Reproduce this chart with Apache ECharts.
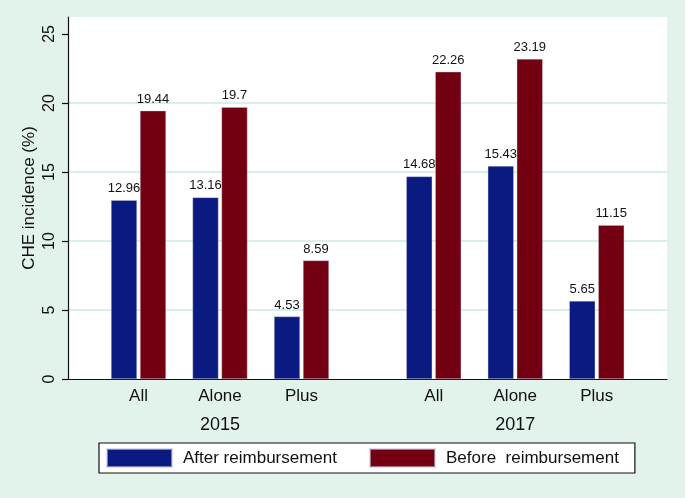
<!DOCTYPE html>
<html>
<head>
<meta charset="utf-8">
<script src="https://cdn.jsdelivr.net/npm/echarts@6/dist/echarts.min.js"></script>
<style>
  html, body { margin: 0; padding: 0; background: #e2f3ec; }
  #chart { width: 685px; height: 498px; }
</style>
</head>
<body>
<div id="chart"></div>
<script>
const categories = ['All', 'Alone', 'Plus']
const years = ['2015', '2017']
const after2015 = [12.96, 13.16, 4.53]
const before2015 = [19.44, 19.7, 8.59]
const after2017 = [14.68, 15.43, 5.65]
const before2017 = [22.26, 23.19, 11.15]
const yTicks = [0, 5, 10, 15, 20, 25]

const FONT = '"Liberation Sans", Arial, sans-serif'
const BLUE = '#0b1a80'
const RED = '#720010'
const yMax = 26.23

const chart = echarts.init(document.getElementById('chart'))

const plot = { top: 17, bottom: 119 }
const groupWidth = 244.5

function barSeries(name, data, idx, color) {
  return {
    name,
    type: 'bar',
    xAxisIndex: idx,
    yAxisIndex: idx,
    data,
    barWidth: 26,
    barGap: '11.5%',
    itemStyle: { color, borderColor: 'rgba(200,200,230,0.6)', borderWidth: 0.6 },
    label: {
      show: true,
      position: 'top',
      distance: 5,
      color: '#111',
      fontFamily: FONT,
      fontSize: 13,
    },
  }
}

function groupAxis(idx, year) {
  return {
    type: 'category',
    gridIndex: idx,
    data: categories,
    axisLine: { show: false },
    axisTick: { show: false },
    axisLabel: { color: '#111', fontFamily: FONT, fontSize: 17, margin: 9 },
    name: year,
    nameLocation: 'middle',
    nameGap: 37,
    nameTextStyle: { color: '#111', fontFamily: FONT, fontSize: 18 },
  }
}

const hiddenY = idx => ({
  type: 'value', gridIndex: idx, min: 0, max: yMax, show: false,
})

chart.setOption({
  backgroundColor: '#e2f3ec',
  animation: false,
  graphic: [{
    type: 'rect',
    z: -10,
    shape: { x: 68, y: plot.top, width: 685 - 68 - 18, height: 498 - plot.top - plot.bottom },
    style: { fill: '#ffffff' },
  }],
  grid: [
    { left: 68, right: 18, top: plot.top, bottom: plot.bottom },
    { left: 97.75, width: groupWidth, top: plot.top, bottom: plot.bottom },
    { left: 393, width: groupWidth, top: plot.top, bottom: plot.bottom },
  ],
  legend: {
    data: ['After reimbursement', 'Before  reimbursement'],
    left: 99,
    top: 443,
    orient: 'horizontal',
    backgroundColor: '#ffffff',
    borderColor: '#111',
    borderWidth: 1.2,
    padding: [5, 16, 5, 7],
    itemWidth: 65,
    itemHeight: 18,
    itemGap: 32,
    icon: 'rect',
    selectedMode: false,
    textStyle: { color: '#111', fontFamily: FONT, fontSize: 17, padding: [0, 0, 0, 6] },
  },
  xAxis: [
    {
      type: 'category',
      gridIndex: 0,
      data: [],
      axisLine: { show: true, lineStyle: { color: '#111', width: 1.2 } },
      axisTick: { show: false },
      axisLabel: { show: false },
    },
    groupAxis(1, years[0]),
    groupAxis(2, years[1]),
  ],
  yAxis: [
    {
      type: 'value',
      gridIndex: 0,
      min: 0,
      max: yMax,
      interval: 5,
      name: 'CHE incidence (%)',
      nameLocation: 'middle',
      nameGap: 30,
      nameMoveOverlap: false,
      nameRotate: 90,
      nameTextStyle: { color: '#111', fontFamily: FONT, fontSize: 17 },
      axisLine: { show: true, lineStyle: { color: '#111', width: 1.2 } },
      axisTick: { show: true, length: 6, customValues: yTicks, lineStyle: { color: '#111', width: 1.2 } },
      axisLabel: {
        customValues: yTicks,
        rotate: 90,
        margin: 10,
        color: '#111',
        fontFamily: FONT,
        fontSize: 16,
      },
      splitLine: {
        show: true,
        showMinLine: false,
        showMaxLine: false,
        lineStyle: { color: '#d8f0e6', width: 2 },
      },
    },
    hiddenY(1),
    hiddenY(2),
  ],
  series: [
    barSeries('After reimbursement', after2015, 1, BLUE),
    barSeries('Before  reimbursement', before2015, 1, RED),
    barSeries('After reimbursement', after2017, 2, BLUE),
    barSeries('Before  reimbursement', before2017, 2, RED),
  ],
})
</script>
</body>
</html>
